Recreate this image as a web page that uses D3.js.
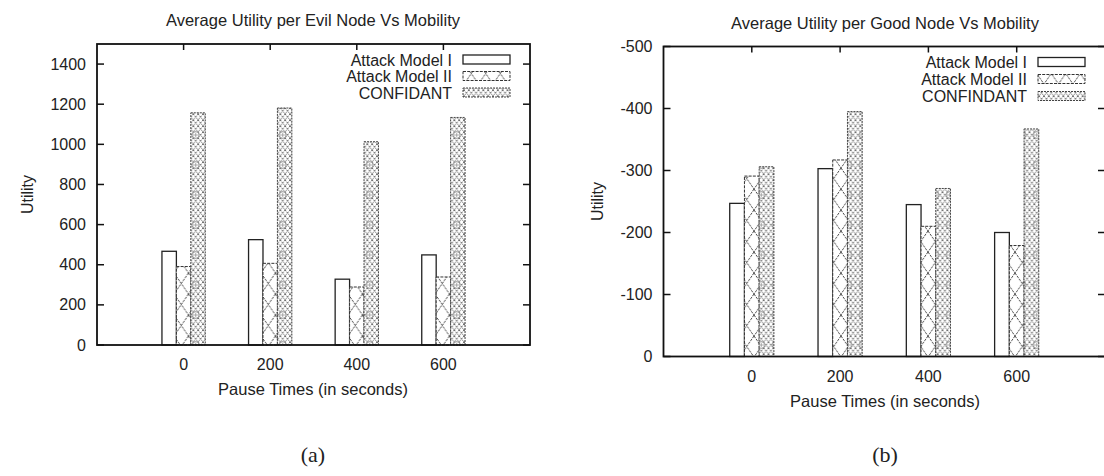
<!DOCTYPE html>
<html>
<head>
<script src="https://d3js.org/d3.v7.min.js"></script>
<style>
  body { margin: 0; background: #fff; }
  text { font-family: "Liberation Sans", Arial, sans-serif; fill: #222; }
</style>
</head>
<body>
<svg id="chart" width="1104" height="476"></svg>
<script>
// data
var pauseTimes = [0, 200, 400, 600];
var evilNames = ["Attack Model I", "Attack Model II", "CONFIDANT"];
var goodNames = ["Attack Model I", "Attack Model II", "CONFINDANT"];

var evilModel1 = [467, 525, 328, 449];
var evilModel2 = [391, 407, 289, 339];
var evilConfidant = [1157, 1181, 1013, 1134];

var goodModel1 = [-247, -303, -245, -200];
var goodModel2 = [-291, -317, -210, -179];
var goodConfidant = [-306, -395, -271, -367];

var evilTicks = [0, 200, 400, 600, 800, 1000, 1200, 1400];
var goodTicks = [0, -100, -200, -300, -400, -500];

var svg = d3.select("#chart");
var defs = svg.append("defs");

// hatch patterns (gnuplot style fills)
var p2 = defs.append("pattern").attr("id", "fill2")
    .attr("patternUnits", "userSpaceOnUse").attr("width", 14.5).attr("height", 21);
p2.append("rect").attr("width", 14.5).attr("height", 21).attr("fill", "#fff");
p2.append("path").attr("d", "M0,0L14.5,21M14.5,0L0,21")
    .attr("stroke", "#333").attr("stroke-width", 0.9).attr("stroke-dasharray", "2.5,1");

// fine lattice + small circles for the third series
var cw = 14.5 / 3, ch = 6;
var lat = "";
for (var r = 0; r < 5; r++) {
  for (var c = 0; c < 3; c++) {
    var x0 = c * cw, y0 = r * ch;
    lat += "M" + x0 + "," + y0 + "L" + (x0 + cw) + "," + (y0 + ch);
    lat += "M" + (x0 + cw) + "," + y0 + "L" + x0 + "," + (y0 + ch);
  }
}
var p3 = defs.append("pattern").attr("id", "fill3")
    .attr("patternUnits", "userSpaceOnUse").attr("width", 14.5).attr("height", 30);
p3.append("rect").attr("width", 14.5).attr("height", 30).attr("fill", "#fff");
p3.append("path").attr("d", lat)
    .attr("stroke", "#444").attr("stroke-width", 0.8).attr("stroke-dasharray", "1.5,0.8").attr("fill", "none");
p3.append("circle").attr("cx", 7.25).attr("cy", 15).attr("r", 3.4)
    .attr("fill", "#fff").attr("stroke", "#777").attr("stroke-width", 0.8);
p3.append("path").attr("d", "M5,15H9.5M7.25,12.8V17.2").attr("stroke", "#888").attr("stroke-width", 0.7);

var fills = ["#fff", "url(#fill2)", "url(#fill3)"];
var strokes = ["#222", "#333", "#444"];
var dashes = [null, "3,1.2", "2,1"];

function drawPanel(opt) {
  var g = svg.append("g");
  var x = d3.scaleLinear().domain([-200, 800]).range([opt.left, opt.right]);
  var y = d3.scaleLinear().domain(opt.yDomain).range([opt.bottom, opt.top]);
  var bw = x(200 / 6) - x(0);
  var series = opt.series;

  // bars
  series.forEach(function(vals, si) {
    g.selectAll(null).data(vals).enter().append("rect")
      .attr("x", function(d, i) { return x(pauseTimes[i]) - 1.5 * bw + si * bw; })
      .attr("y", function(d) { return y(d); })
      .attr("width", bw)
      .attr("height", function(d) { return opt.bottom - y(d); })
      .attr("fill", fills[si])
      .attr("stroke", strokes[si])
      .attr("stroke-width", si === 0 ? 1.3 : 1)
      .attr("stroke-dasharray", dashes[si]);
  });

  // frame
  g.append("rect")
    .attr("x", opt.left).attr("y", opt.top)
    .attr("width", opt.right - opt.left).attr("height", opt.bottom - opt.top)
    .attr("fill", "none").attr("stroke", "#111").attr("stroke-width", 1.8);

  // y ticks (inward, mirrored)
  opt.yTicks.forEach(function(t) {
    var yy = y(t);
    g.append("line").attr("x1", opt.left).attr("x2", opt.left + 7).attr("y1", yy).attr("y2", yy)
      .attr("stroke", "#111").attr("stroke-width", 1.5);
    g.append("line").attr("x1", opt.right).attr("x2", opt.right - 7).attr("y1", yy).attr("y2", yy)
      .attr("stroke", "#111").attr("stroke-width", 1.5);
    g.append("text").attr("x", opt.left - 11).attr("y", yy + 5.5)
      .attr("text-anchor", "end").style("font-size", "16px").text(t);
  });

  // x ticks
  pauseTimes.forEach(function(t) {
    var xx = x(t);
    g.append("line").attr("x1", xx).attr("x2", xx).attr("y1", opt.top).attr("y2", opt.top + 6)
      .attr("stroke", "#111").attr("stroke-width", 1.5);
    g.append("text").attr("x", xx).attr("y", opt.bottom + 25)
      .attr("text-anchor", "middle").style("font-size", "16px").text(t);
  });

  // titles
  g.append("text").attr("x", opt.titleX).attr("y", opt.titleY)
    .attr("text-anchor", "middle").style("font-size", "16.5px").text(opt.title);
  g.append("text").attr("x", opt.titleX).attr("y", opt.bottom + 50)
    .attr("text-anchor", "middle").style("font-size", "16.5px").text("Pause Times (in seconds)");
  g.append("text")
    .attr("transform", "translate(" + opt.ylabX + "," + (opt.top + opt.bottom) / 2 + ") rotate(-90)")
    .attr("text-anchor", "middle").style("font-size", "16px").text("Utility");
  g.append("text").attr("x", opt.titleX).attr("y", 462)
    .attr("text-anchor", "middle")
    .style("font-family", "'Liberation Serif', 'Times New Roman', serif")
    .style("font-size", "22px").text(opt.tag);

  // legend
  opt.names.forEach(function(n, i) {
    var cy = opt.legTop + i * opt.legStep;
    g.append("text").attr("x", opt.legX).attr("y", cy + 6)
      .attr("text-anchor", "end").style("font-size", "16px").text(n);
    g.append("rect").attr("x", opt.legX + 11).attr("y", cy - 4.5)
      .attr("width", 47).attr("height", 9)
      .attr("fill", fills[i]).attr("stroke", strokes[i])
      .attr("stroke-width", i === 0 ? 1.3 : 1)
      .attr("stroke-dasharray", dashes[i]);
  });
}

drawPanel({
  left: 97, right: 530, top: 44, bottom: 345,
  yDomain: [0, 1500], yTicks: evilTicks,
  series: [evilModel1, evilModel2, evilConfidant],
  names: evilNames,
  title: "Average Utility per Evil Node Vs Mobility",
  titleX: 313, titleY: 26, ylabX: 33, tag: "(a)",
  legX: 452, legTop: 59.5, legStep: 16.5
});

drawPanel({
  left: 663.5, right: 1105, top: 46.5, bottom: 356.5,
  yDomain: [0, -500], yTicks: goodTicks,
  series: [goodModel1, goodModel2, goodConfidant],
  names: goodNames,
  title: "Average Utility per Good Node Vs Mobility",
  titleX: 885, titleY: 29, ylabX: 603, tag: "(b)",
  legX: 1027, legTop: 62, legStep: 17
});
</script>
</body>
</html>
